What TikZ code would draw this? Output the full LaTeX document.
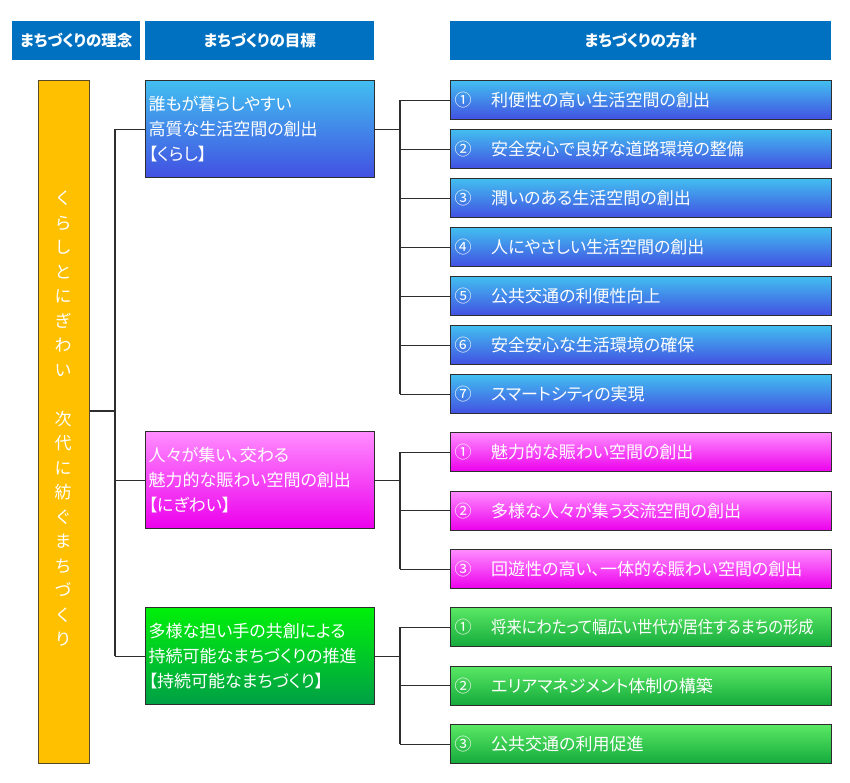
\documentclass[tikz,border=0pt]{standalone}
\usepackage{fontspec}
\setmainfont[RawFeature=+palt]{Noto Sans CJK JP}
\newfontfamily\plainjp{Noto Sans CJK JP}
\usepackage{tikz}
\usetikzlibrary{positioning}
\definecolor{hdblue}{RGB}{0,112,192}
\definecolor{mtorange}{RGB}{255,192,0}
\definecolor{bltop}{RGB}{66,190,240}
\definecolor{blbot}{RGB}{66,80,226}
\definecolor{mgtop}{RGB}{255,140,255}
\definecolor{mgbot}{RGB}{236,0,236}
\definecolor{grtop}{RGB}{0,240,10}
\definecolor{grbot}{RGB}{0,160,70}
\definecolor{gptop}{RGB}{90,232,100}
\definecolor{gpbot}{RGB}{20,170,60}
\definecolor{edge}{RGB}{45,45,45}
\tikzset{
  head/.style={fill=hdblue,text=white,font=\bfseries\fontsize{15.5}{18}\selectfont,
    inner sep=0pt,minimum height=39pt,anchor=north west},
  goalbox/.style={draw=edge,line width=1.3pt,text=white,anchor=north west,
    minimum width=229pt,minimum height=97pt,text width=223pt,inner sep=3pt,align=left,
    font=\fontsize{17}{25}\selectfont},
  policy/.style={draw=edge,line width=1.3pt,text=white,anchor=north west,
    minimum width=381pt,minimum height=39pt,text width=373pt,inner sep=4pt,align=left,
    font=\fontsize{17}{20}\selectfont},
  link/.style={draw=edge,line width=1.2pt}
}
\newcommand{\num}[1]{#1\hspace{1.15em}}
\begin{document}
\begin{tikzpicture}[x=1pt,y=-1pt]
  \useasboundingbox (0,0) rectangle (850,783);
  % column headers
  \node[head,minimum width=128pt] (h1) at (12,21) {まちづくりの理念};
  \node[head,minimum width=229pt] (h2) at (145,21) {まちづくりの目標};
  \node[head,minimum width=381pt] (h3) at (450,21) {まちづくりの方針};
  % motto
  \node[draw=edge!80!mtorange,line width=1.2pt,fill=mtorange,minimum width=51pt,minimum height=683pt,
    anchor=north west,inner sep=0pt] (motto) at (38,80) {};
  \node[text=white,align=center,font=\plainjp\fontsize{17}{24.5}\selectfont] (mtext) at (63,419)
    {く\\ら\\し\\と\\に\\ぎ\\わ\\い\\[24.5pt]次\\代\\に\\紡\\ぐ\\ま\\ち\\づ\\く\\り};
  % goals
  \node[goalbox,top color=bltop,bottom color=blbot] (g1) at (145,80)
    {誰もが暮らしやすい\\高質な生活空間の創出\\【くらし】};
  \node[goalbox,top color=mgtop,bottom color=mgbot] (g2) at (145,431)
    {人々が集い、交わる\\魅力的な賑わい空間の創出\\【にぎわい】};
  \node[goalbox,top color=grtop,bottom color=grbot] (g3) at (145,607)
    {多様な担い手の共創による\\持続可能なまちづくりの推進\\【持続可能なまちづくり】};
  % policies
  \foreach \t [count=\i] in {利便性の高い生活空間の創出,安全安心で良好な道路環境の整備,
      潤いのある生活空間の創出,人にやさしい生活空間の創出,公共交通の利便性向上,
      安全安心な生活環境の確保,スマートシティの実現}
    \node[policy,top color=bltop,bottom color=blbot] (pa\i) at (450,{80+49*(\i-1)})
      {\num{\ifcase\i\or ①\or ②\or ③\or ④\or ⑤\or ⑥\or ⑦\fi}\t};
  \foreach \t [count=\i] in {魅力的な賑わい空間の創出,多様な人々が集う交流空間の創出,
      回遊性の高い、一体的な賑わい空間の創出}
    \node[policy,top color=mgtop,bottom color=mgbot] (pb\i) at (450,{432+58.5*(\i-1)})
      {\num{\ifcase\i\or ①\or ②\or ③\fi}\t};
  \foreach \t [count=\i] in {{\scalebox{0.9}[1]{将来にわたって幅広い世代が居住するまちの形成}},
      エリアマネジメント体制の構築,公共交通の利用促進}
    \node[policy,top color=gptop,bottom color=gpbot] (pc\i) at (450,{607+58.5*(\i-1)})
      {\num{\ifcase\i\or ①\or ②\or ③\fi}\t};
  % motto -> goals
  \coordinate (mj) at (115,411);
  \draw[link] (motto.east |- mj) -- (mj);
  \draw[link] (mj |- g1.west) -- (mj |- g3.west);
  \foreach \g in {g1,g2,g3} \draw[link] (mj |- \g.west) -- (\g.west);
  % goals -> policies
  \coordinate (pj) at (400,0);
  \draw[link] (g1.east) -- (pj |- g1.east);
  \draw[link] (pj |- pa1.west) -- (pj |- pa7.west);
  \foreach \i in {1,...,7} \draw[link] (pj |- pa\i.west) -- (pa\i.west);
  \draw[link] (g2.east) -- (pj |- g2.east);
  \draw[link] (pj |- pb1.west) -- (pj |- pb3.west);
  \foreach \i in {1,2,3} \draw[link] (pj |- pb\i.west) -- (pb\i.west);
  \draw[link] (g3.east) -- (pj |- g3.east);
  \draw[link] (pj |- pc1.west) -- (pj |- pc3.west);
  \foreach \i in {1,2,3} \draw[link] (pj |- pc\i.west) -- (pc\i.west);
\end{tikzpicture}
\end{document}
